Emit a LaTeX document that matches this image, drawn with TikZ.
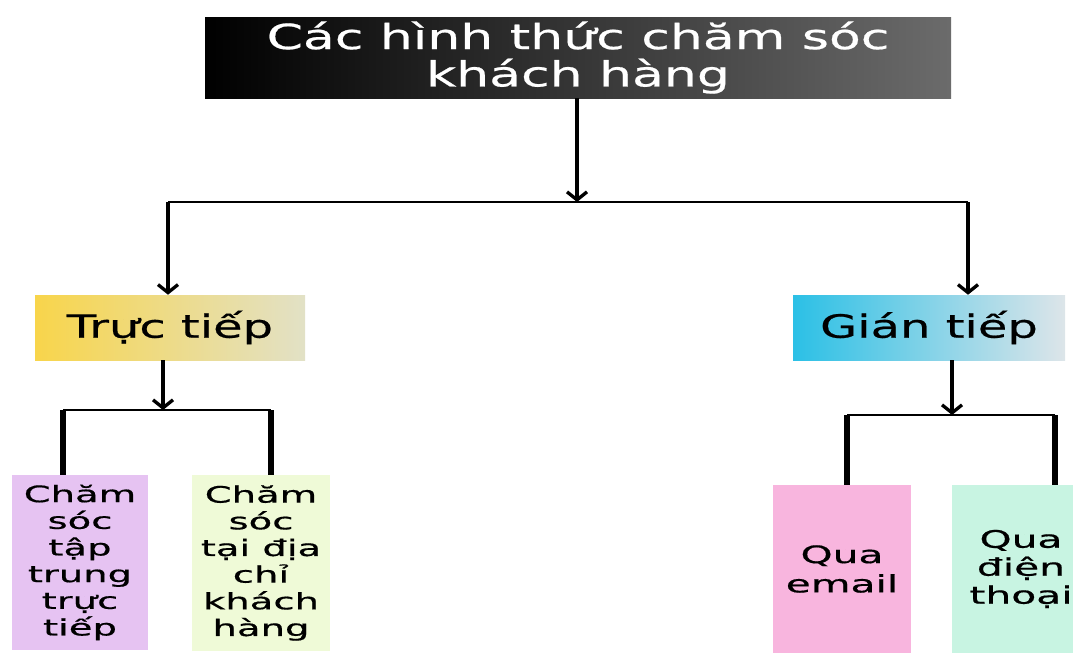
\documentclass[tikz,border=0pt]{standalone}
\usepackage{fontspec}
\setmainfont{DejaVu Sans}[FakeStretch=1.5, FakeBold=0.6]
\newfontfamily\leaffont{DejaVu Sans}[FakeStretch=1.7, FakeBold=0.6]
\usetikzlibrary{arrows.meta}

\definecolor{trucL}{HTML}{F8D54B}
\definecolor{trucR}{HTML}{E2E1C6}
\definecolor{gianL}{HTML}{2BC0E6}
\definecolor{gianR}{HTML}{DDE5E9}
\definecolor{tapTrung}{HTML}{E6C3F2}
\definecolor{diaChi}{HTML}{EFFAD7}
\definecolor{email}{HTML}{F8B5DE}
\definecolor{dienThoai}{HTML}{C8F4E2}

\begin{document}
\begin{tikzpicture}[x = 0.75pt, y = -0.75pt,
   box/.style = {inner sep = 0pt, align = center},
   leaf/.style = {box, font = \leaffont\fontsize{17}{20}\selectfont},
   arr/.style = {line width = 3.5pt, -{Straight Barb[length = 6pt, width = 15pt, line width = 2.5pt]}},
   bus/.style = {line width = 2pt},
   drop/.style = {line width = 4pt}]
\useasboundingbox (0, 0) rectangle (1073, 653);

% cac khoi
\node[box, minimum width = 559.5pt, minimum height = 60.75pt, left color = black, right color = black!58, text = white,
   font = \fontsize{26}{28}\selectfont] (title) at (578, 57.5) {Các hình thức chăm sóc\\khách hàng};
\node[box, minimum width = 202.5pt, minimum height = 48.75pt, left color = trucL, right color = trucR,
   font = \fontsize{24}{24}\selectfont] (truc) at (170, 327.5) {Trực tiếp};
\node[box, minimum width = 204pt, minimum height = 48.75pt, left color = gianL, right color = gianR,
   font = \fontsize{24}{24}\selectfont] (gian) at (929, 327.5) {Gián tiếp};

\node[leaf, minimum width = 102pt, minimum height = 131.25pt, fill = tapTrung] (tapTrung) at (80, 562.5) {Chăm\\sóc\\tập\\trung\\trực\\tiếp};
\node[leaf, minimum width = 103.5pt, minimum height = 132pt, fill = diaChi] (diaChi) at (261, 563) {Chăm\\sóc\\tại địa\\chỉ\\khách\\hàng};
\node[leaf, minimum width = 103.5pt, minimum height = 126pt, fill = email, font = \leaffont\fontsize{18}{22}\selectfont] (email) at (842, 569) {Qua\\email};
\node[leaf, minimum width = 103.5pt, minimum height = 126pt, fill = dienThoai, font = \leaffont\fontsize{18}{21}\selectfont] (dienThoai) at (1021, 569) {Qua\\điện\\thoại};

% tang 1
\coordinate (j0) at (577, 202);
\coordinate (jL) at (168, 202);
\coordinate (jR) at (968, 202);
\draw[arr] (title.south -| j0) -- (j0);
\draw[bus] (jL) -- (jR);
\draw[arr] (jL) -- (jL |- truc.north);
\draw[arr] (jR) -- (jR |- gian.north);

% tang 2
\coordinate (t0) at (163, 410);
\coordinate (tL) at (63, 410);
\coordinate (tR) at (271, 410);
\draw[arr] (truc.south -| t0) -- (t0);
\draw[bus] (tL) -- (tR);
\draw[drop] (tL) -- (tL |- tapTrung.north);
\draw[drop] (tR) -- (tR |- diaChi.north);

\coordinate (g0) at (952, 415);
\coordinate (gL) at (847, 415);
\coordinate (gR) at (1055, 415);
\draw[arr] (gian.south -| g0) -- (g0);
\draw[bus] (gL) -- (gR);
\draw[drop] (gL) -- (gL |- email.north);
\draw[drop] (gR) -- (gR |- dienThoai.north);
\end{tikzpicture}
\end{document}
